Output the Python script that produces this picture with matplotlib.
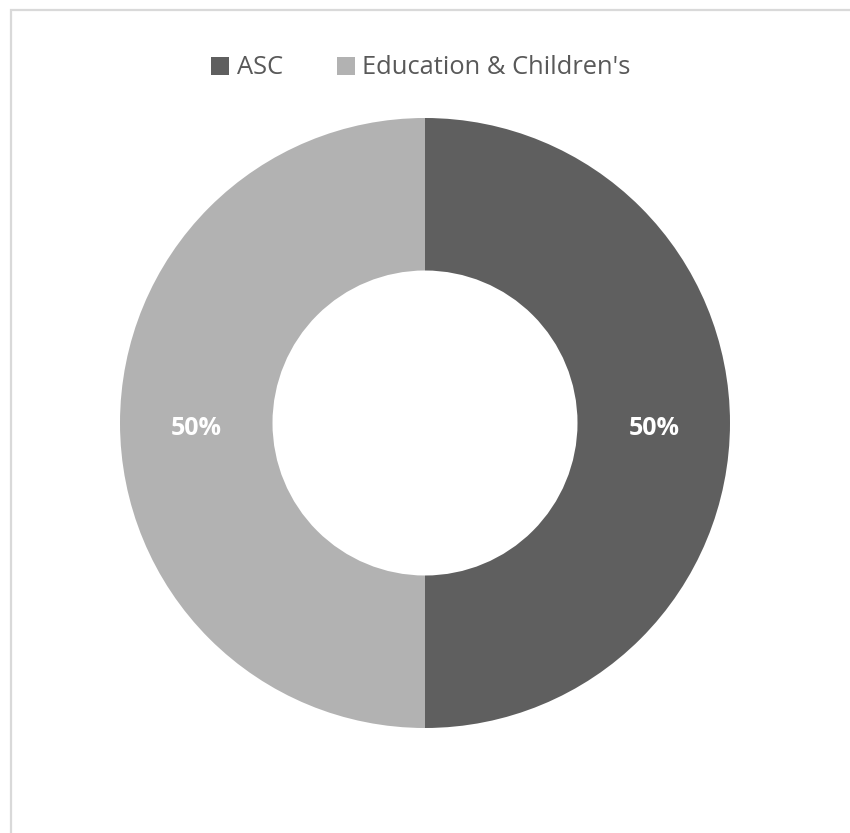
import matplotlib
matplotlib.use("Agg")
import matplotlib.pyplot as plt
from matplotlib.patches import Rectangle, Patch

categories = ["ASC", "Education & Children's"]
values = [50, 50]
colors = ["#5f5f5f", "#b2b2b2"]

plt.rcParams['font.family'] = ['Open Sans', 'DejaVu Sans']

W, H = 850, 833
fig = plt.figure(figsize=(W / 100, H / 100), dpi=100)
fig.patch.set_facecolor("white")

# Outer chart-area frame (light grey)
fig.add_artist(Rectangle((10.5 / W, -0.05), 1.2, 1 - 9.5 / H + 0.05,
                         transform=fig.transFigure, fill=False,
                         edgecolor="#d9d9d9", linewidth=1.6, zorder=0))

ax = fig.add_axes([120 / W, 1 - 728 / H, 610 / W, 610 / H])
wedges, texts, autotexts = ax.pie(
    values, colors=colors, startangle=90, counterclock=False,
    radius=1.0, wedgeprops=dict(width=0.5, edgecolor="none"),
    autopct=lambda p: f"{p:.0f}%", pctdistance=0.75,
    textprops=dict(color="white", fontsize=18, fontweight="bold"))
for t in autotexts:
    x, y = t.get_position()
    t.set_position((x, y - 0.018))
ax.set_xlim(-1, 1)
ax.set_ylim(-1, 1)
ax.set_aspect("equal")
ax.axis("off")

handles = [Patch(facecolor=c, edgecolor="none") for c in colors]
fig.legend(handles, categories, loc="center", bbox_to_anchor=(421 / W, 1 - 68 / H),
           ncol=2, frameon=False, fontsize=18.4, labelcolor="#595959",
           handlelength=0.7, handleheight=0.7, handletextpad=0.3,
           columnspacing=2.1)

fig.savefig("out.png", dpi=100, facecolor="white")
